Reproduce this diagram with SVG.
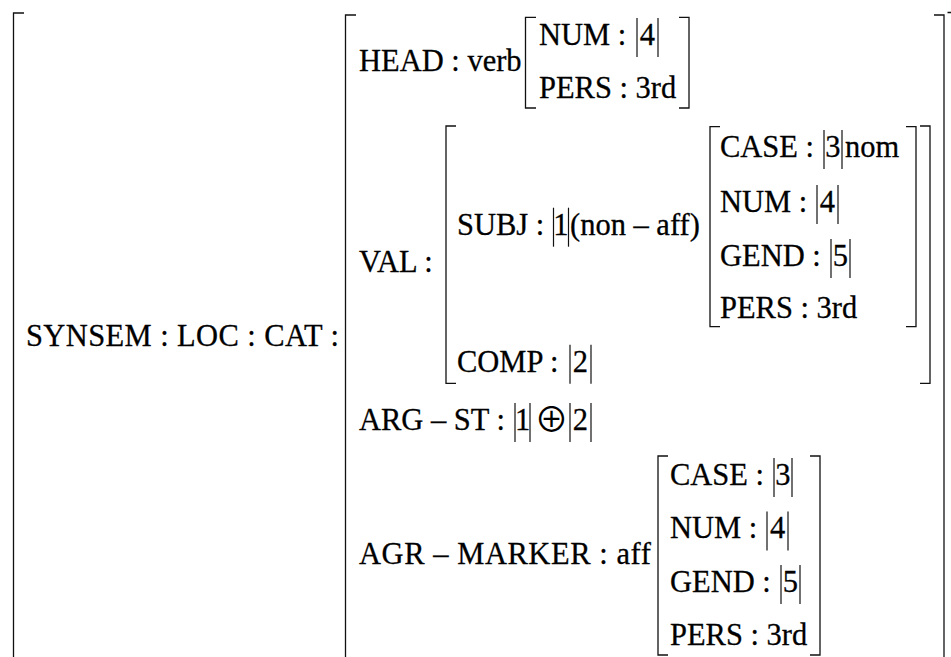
<svg xmlns="http://www.w3.org/2000/svg" width="951" height="657" viewBox="0 0 951 657">
<style>
.t{font-family:"Liberation Serif","Times New Roman",serif;font-size:32.5px;fill:#000;stroke:#000;stroke-width:0.3}
.d{font-family:"Liberation Serif","Times New Roman",serif;font-size:32.5px;fill:#000;stroke:#000;stroke-width:0.3;text-anchor:middle}
.o{font-family:"Noto Sans CJK JP","DejaVu Sans",sans-serif;font-size:34px;fill:#000;text-anchor:middle}
.b{fill:none;stroke:#111;stroke-width:1.3}
.g{stroke:#111;stroke-width:1.2}
</style>
<rect width="951" height="657" fill="#fff"/>

<g id="outer">
<path class="b" d="M24,13 H13.5 V670"/>
<path class="b" d="M947.5,12.5 H952 V670"/>
<text class="t" transform="scale(0.9385 1)" x="27.7" y="345.7" textLength="333.5">SYNSEM : LOC : CAT :</text>
</g>

<g id="cat">
<path class="b" d="M356,15 H345.5 V670"/>
<path class="b" d="M934,15 H944 V670"/>
</g>

<g id="head">
<path class="b" d="M536,17.3 H525.5 V108 H536"/>
<path class="b" d="M679,17.3 H689 V108 H679"/>
<line class="g" x1="637" y1="18" x2="637" y2="57"/><line class="g" x1="658" y1="18" x2="658" y2="57"/>
<g transform="scale(0.9385 1)">
<text class="t" x="382.53" y="70.7">HEAD : verb</text>
<text class="t" x="574.32" y="45">NUM :</text>
<text class="d" x="689.93" y="45">4</text>
<text class="t" x="574.32" y="98.3">PERS : 3rd</text>
</g>
</g>

<g id="val">
<path class="b" d="M456,126 H446 V383.3 H456"/>
<path class="b" d="M920,126 H930 V383.3 H920"/>
<line class="g" x1="553.5" y1="207.7" x2="553.5" y2="246.7"/><line class="g" x1="568.5" y1="207.7" x2="568.5" y2="246.7"/>
<line class="g" x1="570" y1="344.7" x2="570" y2="383.7"/><line class="g" x1="591" y1="344.7" x2="591" y2="383.7"/>
<g transform="scale(0.9385 1)">
<text class="t" x="382.53" y="271.7">VAL :</text>
<text class="t" x="486.95" y="234.7">SUBJ :</text>
<text class="d" x="597.76" y="234.7">1</text>
<text class="t" x="607.35" y="234.7">(non – aff)</text>
<text class="t" x="486.95" y="371.7">COMP :</text>
<text class="d" x="618.54" y="371.7">2</text>
</g>
</g>

<g id="subj-agr">
<path class="b" d="M720,126.7 H710 V326.7 H720"/>
<path class="b" d="M906,126.7 H916 V326.7 H906"/>
<line class="g" x1="824" y1="130" x2="824" y2="169"/><line class="g" x1="842" y1="130" x2="842" y2="169"/>
<line class="g" x1="817" y1="185" x2="817" y2="224"/><line class="g" x1="838" y1="185" x2="838" y2="224"/>
<line class="g" x1="831" y1="239" x2="831" y2="278"/><line class="g" x1="850" y1="239" x2="850" y2="278"/>
<g transform="scale(0.9385 1)">
<text class="t" x="767.18" y="157">CASE :</text>
<text class="d" x="887.59" y="157">3</text>
<text class="t" x="900.37" y="157">nom</text>
<text class="t" x="767.18" y="212">NUM :</text>
<text class="d" x="881.73" y="212">4</text>
<text class="t" x="767.18" y="266">GEND :</text>
<text class="d" x="895.58" y="266">5</text>
<text class="t" x="767.18" y="318.5">PERS : 3rd</text>
</g>
</g>

<g id="arg-st">
<line class="g" x1="515" y1="403" x2="515" y2="442"/><line class="g" x1="530" y1="403" x2="530" y2="442"/>
<line class="g" x1="570" y1="403" x2="570" y2="442"/><line class="g" x1="591" y1="403" x2="591" y2="442"/>
<text class="o" x="551.5" y="432">⊕</text>
<g transform="scale(0.9385 1)">
<text class="t" x="382.53" y="430">ARG – ST :</text>
<text class="d" x="556.74" y="430">1</text>
<text class="d" x="618.54" y="430">2</text>
</g>
</g>

<g id="agr-marker">
<path class="b" d="M668,456 H658 V655 H668"/>
<path class="b" d="M810,456 H820 V655 H810"/>
<line class="g" x1="774" y1="458" x2="774" y2="497"/><line class="g" x1="792" y1="458" x2="792" y2="497"/>
<line class="g" x1="767" y1="511.5" x2="767" y2="550.5"/><line class="g" x1="788" y1="511.5" x2="788" y2="550.5"/>
<line class="g" x1="781" y1="565" x2="781" y2="604"/><line class="g" x1="800" y1="565" x2="800" y2="604"/>
<g transform="scale(0.9385 1)">
<text class="t" x="382.53" y="564" textLength="311">AGR – MARKER : aff</text>
<text class="t" x="713.91" y="485">CASE :</text>
<text class="d" x="834.31" y="485">3</text>
<text class="t" x="713.91" y="538.5">NUM :</text>
<text class="d" x="828.45" y="538.5">4</text>
<text class="t" x="713.91" y="592">GEND :</text>
<text class="d" x="842.30" y="592">5</text>
<text class="t" x="713.91" y="645">PERS : 3rd</text>
</g>
</g>
</svg>
